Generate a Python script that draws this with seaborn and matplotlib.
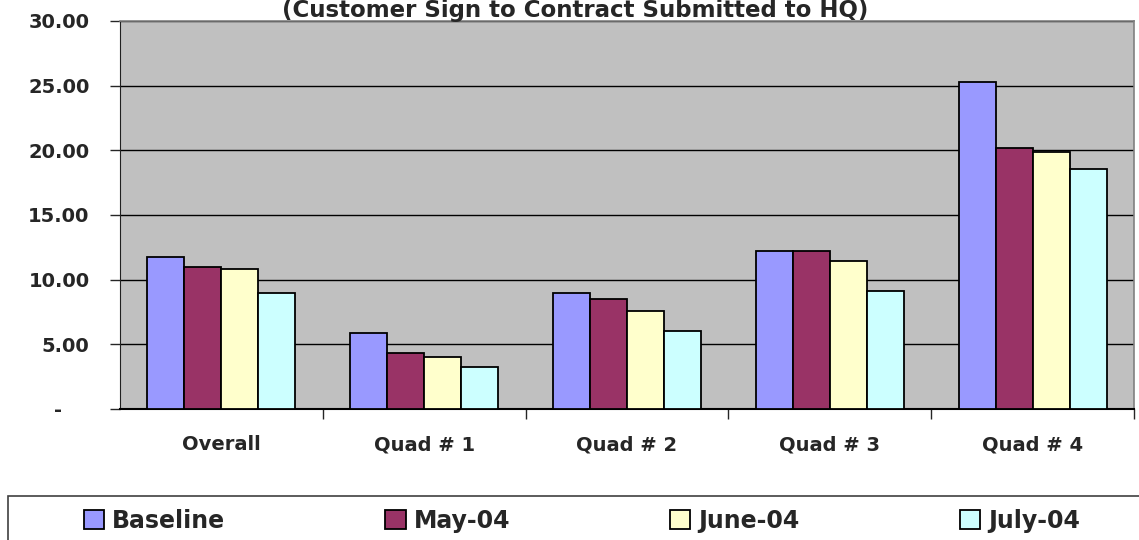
import pandas as pd
import matplotlib
matplotlib.use("Agg")
import matplotlib.pyplot as plt
import seaborn as sns
from matplotlib.patches import Rectangle
from matplotlib.ticker import FixedLocator

# dati
categorie = ["Overall", "Quad # 1", "Quad # 2", "Quad # 3", "Quad # 4"]
periodi = ["Baseline", "May-04", "June-04", "July-04"]
baseline = [11.73, 5.85, 8.95, 12.20, 25.29]
maggio = [10.96, 4.33, 8.51, 12.20, 20.19]
giugno = [10.80, 4.02, 7.58, 11.45, 19.90]
luglio = [9.00, 3.25, 6.06, 9.15, 18.54]
colori = ["#9999FF", "#993366", "#FFFFCC", "#CCFFFF"]
titolo = "(Customer Sign to Contract Submitted to HQ)"

serie = [baseline, maggio, giugno, luglio]
df = pd.DataFrame({
    "categoria": [c for _ in periodi for c in categorie],
    "periodo": [p for p in periodi for _ in categorie],
    "valore": [v for s in serie for v in s],
})

sns.set_style("white")
plt.rcParams["font.family"] = ["DejaVu Sans"]
plt.rcParams["font.weight"] = "bold"

W, H = 1139, 540
fig = plt.figure(figsize=(W / 100, H / 100), dpi=100)
ax = fig.add_axes([120 / W, (H - 409) / H, (1134 - 120) / W, 388 / H])
ax.set_facecolor("#C0C0C0")

sns.barplot(data=df, x="categoria", y="valore", hue="periodo",
            order=categorie, hue_order=periodi, palette=colori,
            saturation=1, width=0.73, edgecolor="black", linewidth=1.3,
            errorbar=None, ax=ax, zorder=3)

# asse y
ax.set_ylim(0, 30)
ax.set_yticks(range(0, 31, 5))
ax.set_yticklabels(["-    "] + [f"{v:.2f}" for v in range(5, 31, 5)],
                   fontsize=14, fontweight="bold")
ax.yaxis.grid(True, color="black", linewidth=1, zorder=0)
ax.set_axisbelow(True)
ax.tick_params(axis="y", direction="out", length=7, width=1, pad=15, left=True)

# asse x: etichette al centro, tacche ai confini
ax.set_xlim(-0.5, len(categorie) - 0.5)
ax.tick_params(axis="x", which="major", length=0, pad=19, labelsize=14)
for t in ax.get_xticklabels():
    t.set_fontweight("bold")
ax.xaxis.set_minor_locator(FixedLocator([i + 0.5 for i in range(len(categorie))]))
ax.tick_params(axis="x", which="minor", direction="out", length=7, width=1, bottom=True)
ax.set_xlabel("")
ax.set_ylabel("")

for lato in ["top", "right"]:
    ax.spines[lato].set_color("#808080")
    ax.spines[lato].set_linewidth(1.2)
ax.spines["left"].set_color("#202020")
ax.spines["bottom"].set_color("black")
ax.spines["bottom"].set_linewidth(1.5)

# titolo in alto, sopra l'area del grafico
fig.text(575 / W, 1 - 16.5 / H, titolo, ha="center", va="baseline",
         fontsize=16.5, fontweight="bold")

# legenda in basso dentro un riquadro
leg = ax.get_legend()
handles = leg.legend_handles
labels = [t.get_text() for t in leg.get_texts()]
leg.remove()
for h in handles:
    h.set_edgecolor("black")
    h.set_linewidth(1.3)

fig.patches.append(Rectangle((8 / W, -0.1), 1.2, (H - 496) / H + 0.1,
                             transform=fig.transFigure, facecolor="white",
                             edgecolor="#404040", linewidth=1.2))
fig.legend(handles, labels, ncol=4, loc="center left", mode="expand",
           bbox_to_anchor=(84 / W, 1 - 521 / H, (1080 - 84) / W, 0),
           frameon=False, prop={"size": 17, "weight": "bold"},
           handlelength=0.85, handleheight=0.85, handletextpad=0.35,
           borderaxespad=0, borderpad=0)

fig.savefig("out.png", dpi=100)
